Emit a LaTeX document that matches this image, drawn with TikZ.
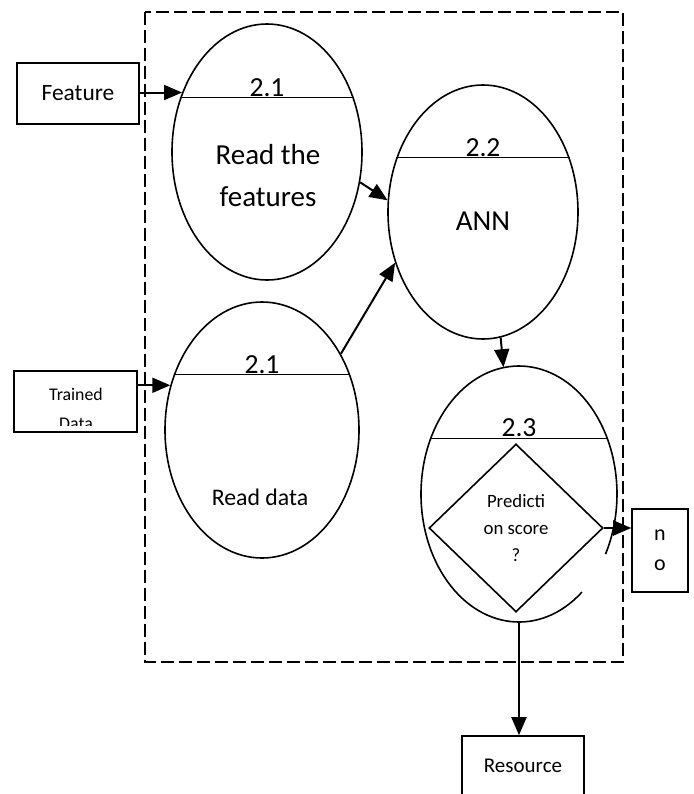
\documentclass[tikz,border=0pt]{standalone}
\usepackage{fontspec}
\setmainfont{Carlito}
\usetikzlibrary{shapes.geometric, arrows.meta, positioning}

\tikzset{
  bubble/.style={ellipse, draw, line width=0.8pt, inner sep=0pt},
  box/.style={rectangle, draw, line width=0.8pt, inner sep=0pt, align=center},
  flow/.style={line width=1pt, -{Triangle[length=9pt, width=7.5pt]}},
  bar/.style={line width=0.6pt},
  num/.style={above, inner sep=0.4pt, font=\fontsize{13.8}{16}\selectfont},
}

\begin{document}
\begin{tikzpicture}[x=0.5pt, y=-0.5pt]
  \useasboundingbox (0,0) rectangle (694,794);

  % system boundary
  \draw[line width=0.9pt, dash pattern=on 6.5pt off 2.5pt] (145,12) rectangle (623,662);

  % processes
  \node[bubble, minimum width=95pt, minimum height=128pt] (readf) at (267,152) {};
  \node[bubble, minimum width=95pt, minimum height=127pt] (ann) at (483,212) {};
  \node[bubble, minimum width=97pt, minimum height=128pt] (readd) at (262,430) {};
  \node[ellipse, inner sep=0pt, minimum width=98pt, minimum height=128pt] (score) at (519,494) {};
  \draw[line width=0.8pt] (score.center) ++(50:98 and 128)
    arc[start angle=50, end angle=388, x radius=98, y radius=128];

  \draw[bar] (readf.148) -- node[num] {2.1} (readf.32);
  \draw[bar] (ann.148) -- node[num] {2.2} (ann.32);
  \draw[bar] (readd.148) -- node[num] {2.1} (readd.32);
  \draw[bar] (score.148) -- node[num] {2.3} (score.32);

  \node[align=center, font=\fontsize{14.5}{21}\selectfont] at (268,176) {Read the\\features};
  \node[font=\fontsize{14.5}{17}\selectfont] at (483,221) {ANN};
  \node[font=\fontsize{11.9}{14}\selectfont] at (260,497) {Read data};

  \node[diamond, draw, line width=0.8pt, inner sep=0pt, minimum width=87pt, minimum height=84pt,
        align=center, font=\fontsize{9.4}{13.3}\selectfont] (ask) at (516,528) {Predicti\\on score\\?};

  % external entities
  \node[box, minimum width=61pt, minimum height=30.5pt, font=\fontsize{11.7}{14}\selectfont]
    (feat) at (78,93.5) {Feature};
  \node[box, minimum width=61.5pt, minimum height=30.5pt] (trained) at (75.5,401.5) {};
  \begin{scope}
    \clip (trained.north west) rectangle ([yshift=3.5pt]trained.south east);
    \node[anchor=base, font=\fontsize{8.9}{13}\selectfont] at (76,400) {Trained};
    \node[anchor=base, font=\fontsize{8.9}{13}\selectfont] at (76,429) {Data};
  \end{scope}
  \node[box, minimum width=28pt, minimum height=41.5pt, font=\fontsize{11}{15}\selectfont]
    (no) at (660,550.5) {n\\o};
  \node[box, minimum width=61pt, minimum height=30pt, font=\fontsize{10.5}{13}\selectfont]
    (res) at (523,766) {Resource};

  % data flows
  \draw[flow] (readf.145 -| feat.east) -- (readf.145);
  \draw[flow] (readd.154 -| trained.east) -- (readd.154);
  \draw[flow] (readf.-18) -- (ann.173);
  \draw[flow] (readd.44) -- (ann.210);
  \draw[flow] (ann.-82) -- (score.97);
  \draw[flow] (ask.east) -- (ask.east -| no.west);
  \draw[flow] (score.south) -- (score.south |- res.north);
\end{tikzpicture}
\end{document}
